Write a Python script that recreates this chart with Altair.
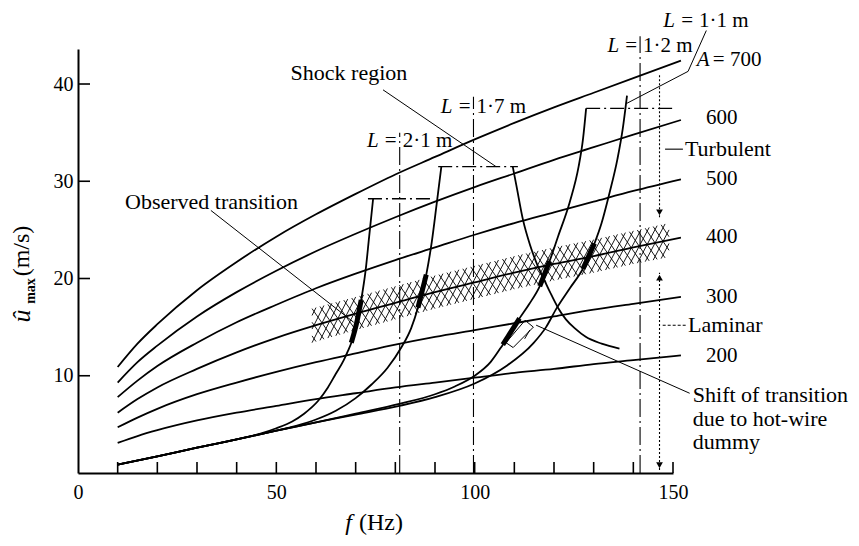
import altair as alt
import pandas as pd
import numpy as np

FONT = "Liberation Serif"

# ---------------- values ----------------
# A-curves (u_max in m/s versus f in Hz)
f_A = [10, 15, 20, 30, 40, 50, 60, 70, 80, 90, 100, 110, 120, 130, 140, 152]
u_A200 = [3.1, 3.8, 4.4, 5.4, 6.2, 6.9, 7.6, 8.2, 8.8, 9.3, 9.8, 10.3, 10.7, 11.2, 11.6, 12.1]
u_A300 = [4.7, 5.7, 6.6, 8.1, 9.3, 10.4, 11.4, 12.3, 13.2, 14.0, 14.7, 15.4, 16.1, 16.8, 17.4, 18.1]
u_A400 = [6.2, 7.6, 8.8, 10.7, 12.4, 13.9, 15.2, 16.4, 17.5, 18.6, 19.6, 20.6, 21.5, 22.3, 23.2, 24.2]
u_A500 = [7.8, 9.5, 11.0, 13.4, 15.5, 17.3, 19.0, 20.5, 21.9, 23.2, 24.5, 25.7, 26.8, 27.9, 29.0, 30.2]
u_A600 = [9.3, 11.4, 13.1, 16.1, 18.6, 20.8, 22.8, 24.6, 26.3, 27.9, 29.4, 30.8, 32.2, 33.5, 34.8, 36.3]
u_A700 = [10.9, 13.3, 15.3, 18.8, 21.7, 24.3, 26.6, 28.7, 30.7, 32.5, 34.3, 36.0, 37.6, 39.1, 40.6, 42.4]
A_labels = ["200", "300", "400", "500", "600"]
A_label_u = [12.0, 18.1, 24.3, 30.2, 36.5]

# L-curves (resonance curves for pipe length L)
f_L21 = [10, 20, 30, 40, 46, 50, 54, 57, 60.5, 63, 65, 67, 68, 69, 70.2, 71.4, 72.5, 73.4, 74.4]
u_L21 = [0.85, 1.7, 2.6, 3.45, 4.05, 4.6, 5.3, 6.1, 7.4, 8.8, 10.2, 11.6, 12.5, 13.5, 15.3, 17.8, 20.8, 24.3, 28.2]
f_L17 = [10, 20, 30, 40, 45, 50, 55, 60, 65, 70, 74, 78, 81.5, 84, 85.7, 87.8, 89.2, 90.4, 91.6]
u_L17 = [0.85, 1.7, 2.6, 3.45, 3.9, 4.35, 4.85, 5.5, 6.4, 7.7, 9.1, 10.8, 12.9, 14.9, 17.0, 20.4, 23.8, 27.6, 31.5]
f_L12 = [10, 20, 30, 40, 50, 60, 70, 81, 90, 95, 100, 104, 107.1, 111.3, 113.8, 116.4, 118.9, 121, 124, 126.2, 127.3, 128.1]
u_L12 = [0.85, 1.7, 2.6, 3.45, 4.35, 5.2, 6.1, 7.1, 8.1, 8.9, 10.0, 11.4, 13.2, 15.9, 17.4, 19.2, 21.8, 24.3, 27.9, 31.5, 34.3, 37.5]
f_L11 = [10, 20, 30, 40, 50, 60, 70, 81, 90, 100, 108, 114.7, 118, 120.6, 124, 127.3, 130.2, 132, 134, 136, 137.3, 138.4]
u_L11 = [0.85, 1.7, 2.6, 3.45, 4.35, 5.2, 6.0, 6.9, 7.8, 9.2, 11.0, 13.3, 15.0, 16.9, 19.0, 21.0, 23.6, 25.7, 28.8, 32.3, 35.3, 38.8]
# shock branch
f_shock = [109.6, 110.5, 112.2, 114, 115.5, 117.5, 119, 121, 123, 125.5, 128, 132, 136.5]
u_shock = [31.5, 29.6, 26.0, 23.4, 21.7, 19.9, 18.6, 17.0, 15.8, 14.8, 14.0, 13.3, 12.8]

# observed transition (thick bars on the L-curves), f ranges
bar_curve = ["L21", "L17", "L12", "L11", "L12"]
bar_f1 = [68.9, 85.7, 116.4, 127.3, 107.1]
bar_f2 = [71.4, 87.8, 118.9, 130.2, 111.3]

# observed-transition band (cross hatched)
band_f = [59, 70, 80, 90, 100, 110, 120, 130, 140, 149]
band_lo = [13.4, 14.7, 15.8, 16.9, 17.9, 18.9, 19.8, 20.6, 21.5, 22.2]
band_hi = [16.9, 18.1, 19.2, 20.3, 21.3, 22.3, 23.2, 24.0, 24.9, 25.7]

# dash-dot caps (maximum amplitude), vertical resonance lines
cap_f1 = [73.1, 90.8, 128.1]
cap_f2 = [89.5, 110.9, 150.2]
cap_u = [28.2, 31.5, 37.5]
vline_f = [81.1, 99.7, 141.7]
vline_top = [35.0, 38.7, 44.9]
L_values = ["2·1 m", "1·7 m", "1·2 m", "1·1 m"]
L_label_f = [81.1, 99.7, 141.7, 155.8]
L_label_u = [34.1, 37.6, 43.9, 46.5]

# turbulent / laminar indicator (dotted line with arrows)
ind_f = 146.6
ind_lo = [0.3, 26.3]
ind_hi = [20.6, 40.9]
arrow_u = [26.8, 20.1, 0.8]
arrow_dir = ["down", "up", "down"]

# hot-wire dummy box
box_f = [112.7, 114.8, 109.7, 107.9, 112.7]
box_u = [15.7, 15.0, 12.9, 13.4, 15.7]
box_arrow_f = [113.9, 112.6]
box_arrow_u = [14.7, 13.8]

# leader lines
lead_obs = ([33.5, 69.5], [27.0, 15.5])
lead_shock = ([76.9, 105.4], [39.4, 31.5])
lead_shift = ([115.5, 154.2], [15.2, 8.2])
lead_L11 = ([138.3, 153.8, 158.4], [38.0, 41.3, 45.5])

# text annotations
txt_left = ["Observed transition", "Turbulent", "Laminar", "Shift of transition",
            "due to hot-wire", "dummy"]
txt_left_f = [11.85, 153.0, 153.8, 155.0, 155.0, 155.0]
txt_left_u = [27.9, 33.3, 15.2, 8.0, 5.6, 3.2]
turb_dash = ([148.0, 152.5], 33.3)
lam_dash = ([147.4, 153.3], 15.2)

x_ticks = [10, 20, 30, 40, 50, 60, 70, 80, 90, 100, 110, 120, 130, 140, 150]
y_ticks = [10, 20, 30, 40]

# ---------------- scales / helpers ----------------
xs = alt.Scale(domain=[0, 150], nice=False, zero=False)
ys = alt.Scale(domain=[0, 43.6], nice=False, zero=False)
xax = alt.Axis(values=[0, 50, 100, 150], format="d", ticks=False, grid=False, title=None,
               labelFont=FONT, labelFontSize=20, labelColor="black", labelPadding=9,
               domainColor="black", domainWidth=2, labelFlush=False)
yax = alt.Axis(values=[10, 20, 30, 40], format="d", ticks=False, grid=False, title=None,
               labelFont=FONT, labelFontSize=20, labelColor="black", labelPadding=5,
               domainColor="black", domainWidth=2, labelFlush=False)


def X(field="f"):
    return alt.X(field, type="quantitative", scale=xs, axis=xax)


def Y(field="u"):
    return alt.Y(field, type="quantitative", scale=ys, axis=yax)


def rows(name, fs, us):
    return [dict(series=name, i=i, f=float(a), u=float(b)) for i, (a, b) in enumerate(zip(fs, us))]


def line_layer(df, **kw):
    props = dict(color="black", strokeWidth=1.8)
    props.update(kw)
    return alt.Chart(df).mark_line(**props).encode(
        x=X(), y=Y(), detail="series:N", order="i:Q")


# A curves
A_df = pd.DataFrame(sum([rows(n, f_A, u) for n, u in
                         [("A200", u_A200), ("A300", u_A300), ("A400", u_A400),
                          ("A500", u_A500), ("A600", u_A600), ("A700", u_A700)]], []))
# L curves
curves = {"L21": (f_L21, u_L21), "L17": (f_L17, u_L17), "L12": (f_L12, u_L12),
          "L11": (f_L11, u_L11), "shock": (f_shock, u_shock)}
L_df = pd.DataFrame(sum([rows(n, *v) for n, v in curves.items()], []))

# thick bars, points taken on the curves
bar_rows = []
for k, (c, a, b) in enumerate(zip(bar_curve, bar_f1, bar_f2)):
    cf, cu = curves[c]
    ff = np.linspace(a, b, 6)
    bar_rows += rows("bar%d" % k, ff, np.interp(ff, cf, cu))
bar_df = pd.DataFrame(bar_rows)

# cross hatch inside the band
hatch_rows = []
s, w = 2.0, 5.0
fs_, fe_ = band_f[0], band_f[-1]
lo = lambda x: float(np.interp(x, band_f, band_lo))
hi = lambda x: float(np.interp(x, band_f, band_hi))
a = fs_ - w + s / 2
k = 0
while a < fe_:
    b = a + w
    for rising in (True, False):
        p0, p1 = max(a, fs_), min(b, fe_)
        if p1 > p0:
            def pt(x, rising=rising, a=a, b=b):
                t = (x - a) / (b - a)
                frac = t if rising else 1 - t
                return lo(x) + frac * (hi(x) - lo(x))
            hatch_rows += rows("h%d" % k, [p0, p1], [pt(p0), pt(p1)])
            k += 1
    a += s
hatch_df = pd.DataFrame(hatch_rows)

lead_df = pd.DataFrame(rows("obs", *lead_obs) + rows("shock", *lead_shock) +
                       rows("shift", *lead_shift) + rows("l11", *lead_L11) +
                       rows("box", box_f, box_u) + rows("barrow", box_arrow_f, box_arrow_u))

caps_df = pd.DataFrame({"f": cap_f1, "f2": cap_f2, "u": cap_u})
vl_df = pd.DataFrame({"f": vline_f, "u": [0.0] * len(vline_f), "u2": vline_top})
ind_df = pd.DataFrame({"f": [ind_f] * 2, "u": ind_lo, "u2": ind_hi})
arr_df = pd.DataFrame({"f": [ind_f] * 3, "u": arrow_u, "dir": arrow_dir})
turb_df = pd.DataFrame({"f": [turb_dash[0][0]], "f2": [turb_dash[0][1]], "u": [turb_dash[1]]})
lam_df = pd.DataFrame({"f": [lam_dash[0][0]], "f2": [lam_dash[0][1]], "u": [lam_dash[1]]})
xt_df = pd.DataFrame({"f": x_ticks})
yt_df = pd.DataFrame({"u": y_ticks})

layers = []
layers.append(line_layer(hatch_df, strokeWidth=0.9))
layers.append(line_layer(A_df, interpolate="monotone"))
layers.append(line_layer(L_df, interpolate="monotone"))
layers.append(line_layer(bar_df, strokeWidth=5, strokeCap="butt", interpolate="monotone"))
layers.append(line_layer(lead_df, strokeWidth=1))

layers.append(alt.Chart(caps_df).mark_rule(color="black", strokeWidth=1.3, strokeDash=[14, 4, 2, 4])
              .encode(x=X("f"), x2="f2", y=Y("u")))
layers.append(alt.Chart(vl_df).mark_rule(color="black", strokeWidth=1.1, strokeDash=[18, 4, 2, 4])
              .encode(x=X("f"), y=Y("u"), y2="u2"))
layers.append(alt.Chart(ind_df).mark_rule(color="black", strokeWidth=1.1, strokeDash=[2, 2])
              .encode(x=X("f"), y=Y("u"), y2="u2"))
layers.append(alt.Chart(turb_df).mark_rule(color="black", strokeWidth=1.1)
              .encode(x=X("f"), x2="f2", y=Y("u")))
layers.append(alt.Chart(lam_df).mark_rule(color="black", strokeWidth=1.1, strokeDash=[3, 2])
              .encode(x=X("f"), x2="f2", y=Y("u")))
layers.append(alt.Chart(arr_df).mark_point(filled=True, color="black", opacity=1, size=45)
              .encode(x=X("f"), y=Y("u"),
                      shape=alt.Shape("dir:N", scale=alt.Scale(domain=["down", "up"],
                                                               range=["triangle-down", "triangle-up"]),
                                      legend=None)))
# inward ticks
layers.append(alt.Chart(xt_df).mark_rule(color="black", strokeWidth=1.6)
              .encode(x=X("f"), y=alt.value(424), y2=alt.value(413)))
layers.append(alt.Chart(yt_df).mark_rule(color="black", strokeWidth=1.6)
              .encode(y=Y("u"), x=alt.value(0), x2=alt.value(12)))

# text
tl_df = pd.DataFrame({"f": txt_left_f, "u": txt_left_u, "label": txt_left})
layers.append(alt.Chart(tl_df).mark_text(font=FONT, fontSize=22, align="left", baseline="middle",
                                         color="black")
              .encode(x=X("f"), y=Y("u"), text="label:N"))
sh_df = pd.DataFrame({"f": [68.3], "u": [41.1], "label": ["Shock region"]})
layers.append(alt.Chart(sh_df).mark_text(font=FONT, fontSize=22, align="center", baseline="middle",
                                         color="black")
              .encode(x=X("f"), y=Y("u"), text="label:N"))
an_df = pd.DataFrame({"f": [158.3] * len(A_labels), "u": A_label_u, "label": A_labels})
layers.append(alt.Chart(an_df).mark_text(font=FONT, fontSize=21, align="left", baseline="middle",
                                         color="black")
              .encode(x=X("f"), y=Y("u"), text="label:N"))
a7_df = pd.DataFrame({"f": [156.0], "u": [42.5], "A": ["A"], "rest": ["= 700"]})
layers.append(alt.Chart(a7_df).mark_text(font=FONT, fontSize=21, fontStyle="italic", align="left",
                                         baseline="middle", color="black")
              .encode(x=X("f"), y=Y("u"), text="A:N"))
layers.append(alt.Chart(a7_df).mark_text(font=FONT, fontSize=21, align="left", baseline="middle",
                                         color="black", dx=16)
              .encode(x=X("f"), y=Y("u"), text="rest:N"))
ll_df = pd.DataFrame({"f": L_label_f, "u": L_label_u, "v": L_values,
                      "L": ["L"] * 4, "eq": ["="] * 4})
layers.append(alt.Chart(ll_df).mark_text(font=FONT, fontSize=21, fontStyle="italic", align="right",
                                         baseline="middle", color="black", dx=-21)
              .encode(x=X("f"), y=Y("u"), text="L:N"))
layers.append(alt.Chart(ll_df).mark_text(font=FONT, fontSize=21, align="right",
                                         baseline="middle", color="black", dx=-3)
              .encode(x=X("f"), y=Y("u"), text="eq:N"))
layers.append(alt.Chart(ll_df).mark_text(font=FONT, fontSize=21, align="left",
                                         baseline="middle", color="black", dx=3)
              .encode(x=X("f"), y=Y("u"), text="v:N"))

# axis titles
one = pd.DataFrame({"k": [0]})
layers.append(alt.Chart(one).mark_text(font=FONT, fontSize=24, fontStyle="italic", align="right",
                                       baseline="middle", color="black")
              .encode(x=alt.value(274), y=alt.value(474), text=alt.value("f")))
layers.append(alt.Chart(one).mark_text(font=FONT, fontSize=24, align="left",
                                       baseline="middle", color="black")
              .encode(x=alt.value(281), y=alt.value(474), text=alt.value("(Hz)")))
layers.append(alt.Chart(one).mark_text(font=FONT, fontSize=24, align="center", angle=270,
                                       baseline="middle", color="black")
              .encode(x=alt.value(-56), y=alt.value(202), text=alt.value("(m/s)")))
layers.append(alt.Chart(one).mark_text(font=FONT, fontSize=26, align="center", angle=270,
                                       baseline="middle", color="black", fontStyle="italic")
              .encode(x=alt.value(-56), y=alt.value(267), text=alt.value("û")))
layers.append(alt.Chart(one).mark_text(font=FONT, fontSize=14, align="center", angle=270,
                                       baseline="middle", color="black", fontWeight="bold")
              .encode(x=alt.value(-47), y=alt.value(242), text=alt.value("max")))

chart = alt.layer(*layers).properties(
    width=595, height=424,
    padding={"left": 70, "top": 41, "right": 178, "bottom": 64},
    autosize="none",
).configure_view(stroke=None)

chart.save("out.html", embed_options={"renderer": "svg", "actions": False})
